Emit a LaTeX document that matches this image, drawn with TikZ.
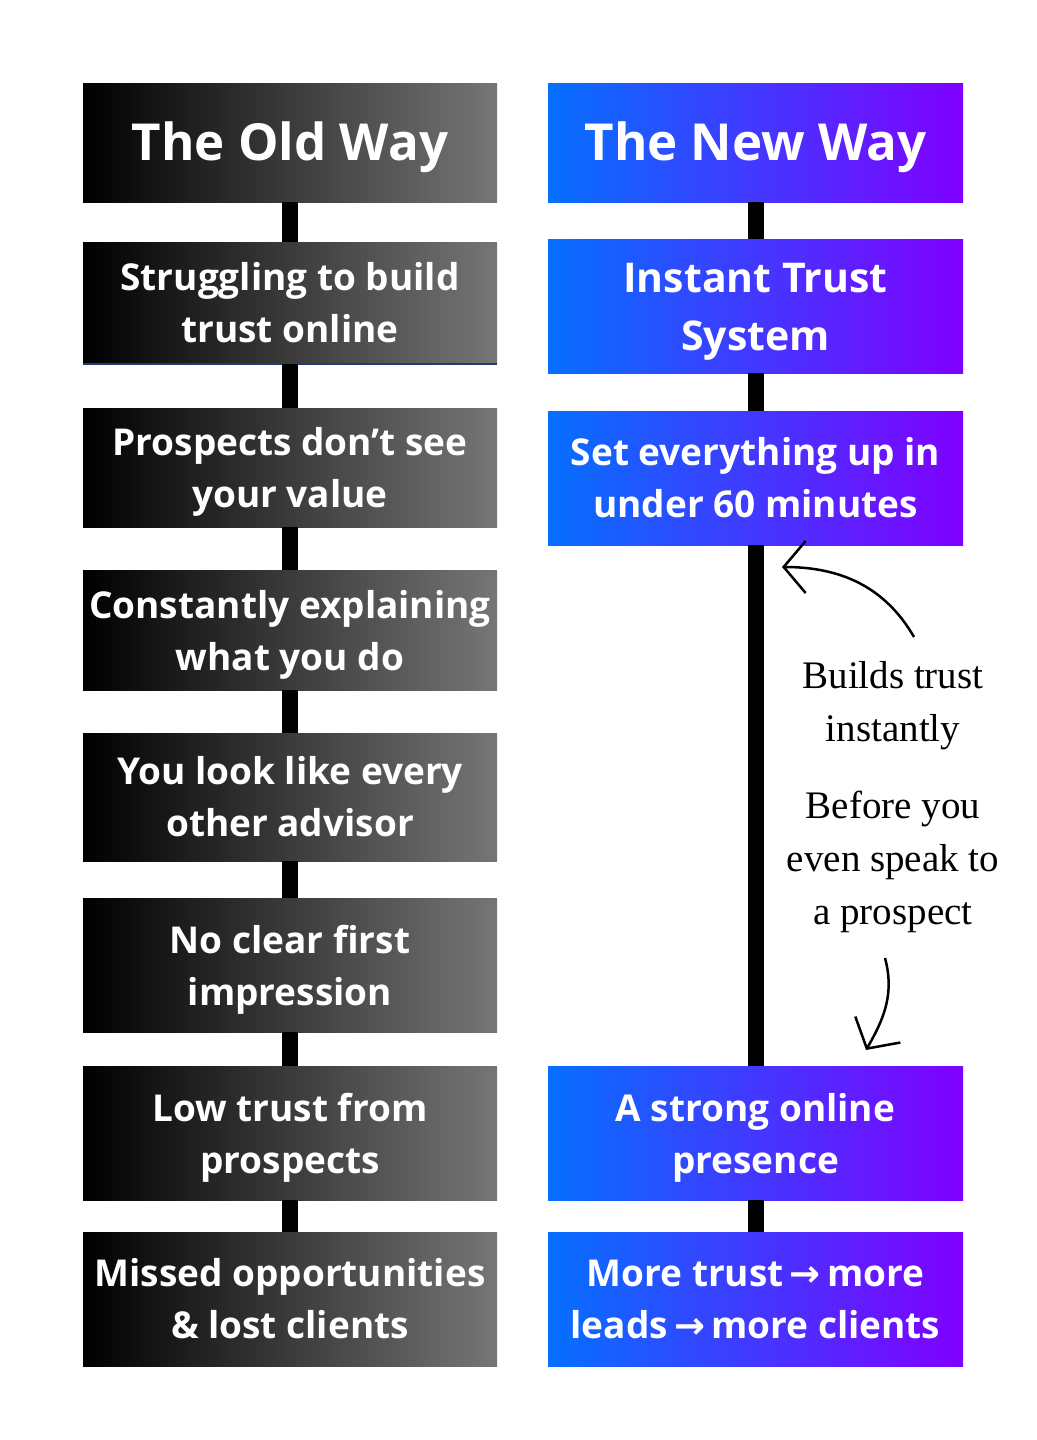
\documentclass[tikz,border=0pt]{standalone}
\usepackage{fontspec}
\setmainfont{Open Sans}
\newfontfamily\notefont{Liberation Serif}
\newfontfamily\arrowfont{DejaVu Sans}
\usepackage{xcolor}
\definecolor{colorOldLeft}{RGB}{0,0,0}
\definecolor{colorOldRight}{RGB}{118,118,118}
\definecolor{colorNewLeft}{RGB}{5,112,255}
\definecolor{colorNewRight}{RGB}{128,0,255}
\definecolor{colorEdge}{RGB}{30,60,120}
\usetikzlibrary{arrows.meta, positioning}
\tikzset{
  oldbox/.style={rectangle, inner sep=0pt, minimum width=414pt, align=center, text=white,
    left color=colorOldLeft, right color=colorOldRight, font=\bfseries\fontsize{37}{52}\selectfont},
  newbox/.style={oldbox, minimum width=415pt, left color=colorNewLeft, right color=colorNewRight},
  headfont/.style={font=\bfseries\fontsize{51}{60}\selectfont},
  link/.style={line width=16pt, black},
  note/.style={align=center, font=\notefont\fontsize{39}{53}\selectfont},
  curl/.style={line width=2.5pt, black, -{Straight Barb[length=22pt, width=52pt]}}
}
\newcommand{\ra}{{\arrowfont\,→\,}}
\newcommand{\up}[1][37pt]{\rule{0pt}{#1}}

\begin{document}
\begin{tikzpicture}[x=1pt, y=-1pt]
\fill[white] (0,0) rectangle (1036,1440);
\useasboundingbox (0,0) rectangle (1036,1440);
% old way
\node[oldbox, headfont, minimum height=119pt] (o0) at (290,142.5) {\up[49pt]The Old Way};
\node[oldbox, minimum height=122pt] (o1) at (290,303) {Struggling to build\\trust online};
\node[oldbox, minimum height=119pt] (o2) at (290,467.5) {\up Prospects don’t see\\your value};
\node[oldbox, minimum height=120pt] (o3) at (290,630) {\up Constantly explaining\\what you do};
\node[oldbox, minimum height=128pt] (o4) at (290,797) {You look like every\\other advisor};
\node[oldbox, minimum height=134pt] (o5) at (290,965) {\up No clear first\\impression};
\node[oldbox, minimum height=134pt] (o6) at (290,1133) {\up Low trust from\\prospects};
\node[oldbox, minimum height=134pt] (o7) at (290,1299) {Missed opportunities\\\& lost clients};
\draw[colorEdge, line width=2pt] (o1.south west) -- (o1.south east);
% new way
\node[newbox, headfont, minimum height=119pt] (n0) at (755.5,142.5) {\up[49pt]The New Way};
\node[newbox, minimum height=134pt, font=\bfseries\fontsize{41}{58}\selectfont] (n1) at (755.5,306) {\up[41pt]Instant Trust\\System};
\node[newbox, minimum height=134pt] (n2) at (755.5,478) {Set everything up in\\under 60 minutes};
\node[newbox, minimum height=134pt] (n3) at (755.5,1133) {\up A strong online\\presence};
\node[newbox, minimum height=134pt] (n4) at (755.5,1299) {More trust\ra more\\leads\ra more clients};
% connectors
\foreach \a/\b in {o0/o1, o1/o2, o2/o3, o3/o4, o4/o5, o5/o6, o6/o7, n0/n1, n1/n2, n2/n3, n3/n4}
  \draw[link] (\a.south) -- (\b.north);
% notes
\node[note] (builds) at (893,706) {Builds trust\\instantly};
\node[note] (before) at (893,862) {Before you\\even speak to\\a prospect};
\coordinate (c1) at (914,637);
\coordinate (t1) at (782,567);
\coordinate (c2) at (885,958);
\coordinate (t2) at (866,1050);
\draw[curl] (c1) to[out=120, in=0] (t1);
\draw[curl] (c2) to[out=-75, in=60] (t2);
\end{tikzpicture}
\end{document}
